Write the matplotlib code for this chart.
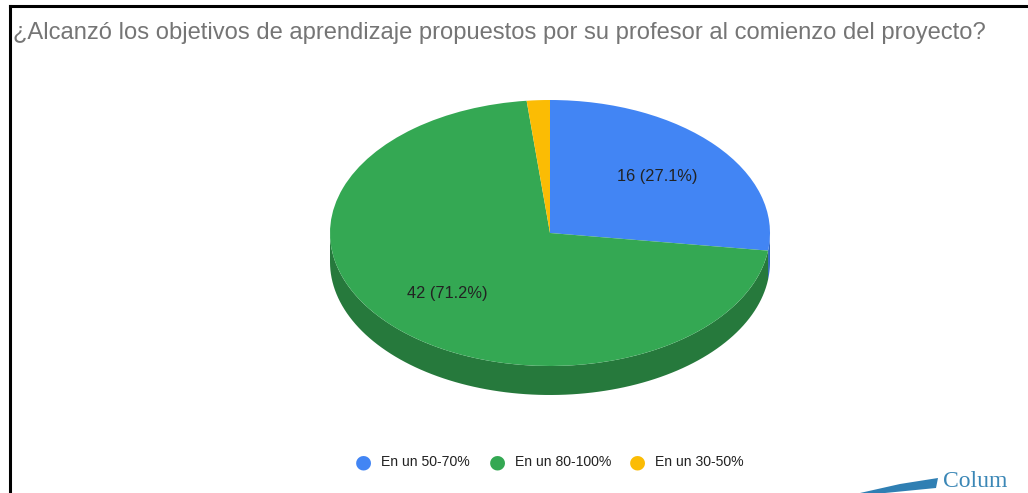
import numpy as np
import matplotlib
matplotlib.use('Agg')
import matplotlib.pyplot as plt
from matplotlib.patches import Polygon

plt.rcParams['font.family'] = ['Liberation Sans', 'DejaVu Sans']

# data
title = '¿Alcanzó los objetivos de aprendizaje propuestos por su profesor al comienzo del proyecto?'
labels = ['En un 50-70%', 'En un 80-100%', 'En un 30-50%']
counts = [16, 42, 1]
colors = ['#4285f4', '#34a853', '#fbbc04']
side_colors = ['#2f66c0', '#26793c', '#c49303']

W, H = 1028, 493
fig = plt.figure(figsize=(W / 100, H / 100), dpi=100)

# pie geometry in pixels (top ellipse)
cx, cy, rx, ry, depth = 550, 233, 220, 133, 29
d = depth / ry
ax = fig.add_axes([(cx - rx) / W, (H - (cy + ry + depth)) / H,
                   2 * rx / W, (2 * ry + depth) / H])

total = sum(counts)


def fmt(p):
    if p < 5:
        return ''
    return '{} ({:.1f}%)'.format(int(round(p * total / 100)), p)


# side wall (front half only), angles clockwise from top
fr = np.cumsum([0] + counts) / total * 360
for i in range(len(counts)):
    a0, a1 = max(fr[i], 90), min(fr[i + 1], 270)
    if a1 <= a0:
        continue
    t = np.radians(np.linspace(a0, a1, 100))
    xs = np.sin(t)
    ys = np.cos(t)
    pts = np.concatenate([np.column_stack([xs, ys]),
                          np.column_stack([xs[::-1], ys[::-1] - d])])
    ax.add_patch(Polygon(pts, closed=True, facecolor=side_colors[i],
                         edgecolor='none', zorder=1))

wedges, _, autotexts = ax.pie(counts, colors=colors, startangle=90, counterclock=False,
                              autopct=fmt, pctdistance=0.65,
                              wedgeprops=dict(linewidth=0),
                              textprops=dict(fontsize=11.8, color='#222222'))
for w in wedges:
    w.set_zorder(2)
for t in autotexts:
    t.set_zorder(3)
ax.set_aspect('auto')
ax.set_xlim(-1, 1)
ax.set_ylim(-1 - d, 1)
ax.axis('off')

# title
fig.text(13 / W, 1 - 33 / H, title, fontsize=17.1, color='#757575',
         ha='left', va='center')

# legend
leg_x = [363, 497, 637]
for x, lab, c in zip(leg_x, labels, colors):
    fig.text(x / W, 1 - 462 / H, '\u25CF', color=c, fontsize=14,
             ha='center', va='center', family='DejaVu Sans')
    fig.text((x + 18) / W, 1 - 462 / H, lab, color='#222222', fontsize=10.1,
             ha='left', va='center')

# frame lines
fig.add_artist(plt.Line2D([9.5 / W, 1], [1 - 6 / H, 1 - 6 / H], color='black', lw=2.2))
fig.add_artist(plt.Line2D([10 / W, 10 / W], [0, 1 - 6 / H], color='black', lw=2.2))

# logo fragment at bottom right
fig.text(943 / W, 6 / H, 'Colum', family='Liberation Serif', fontsize=17,
         color='#3b87b6', ha='left', va='baseline')
fig.add_artist(Polygon([[860 / W, 0], [900 / W, 9 / H], [938 / W, 15 / H],
                        [936 / W, 5 / H], [885 / W, 0]],
                       closed=True, transform=fig.transFigure,
                       facecolor='#2f7fb3', edgecolor='none'))

fig.savefig('out.png', dpi=100)
